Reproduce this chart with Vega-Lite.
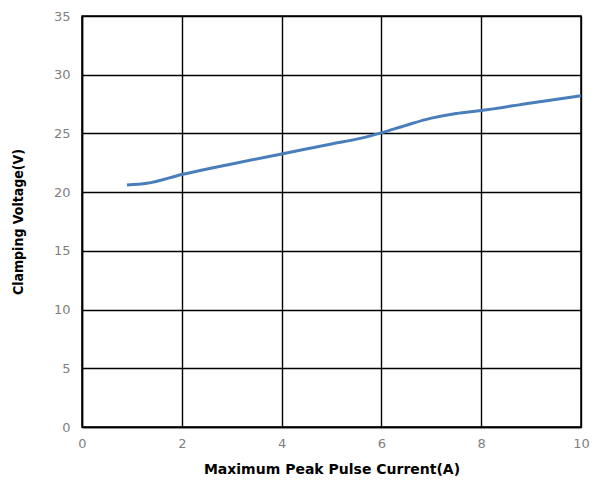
{
  "$schema": "https://vega.github.io/schema/vega-lite/v6.json",
  "width": 499,
  "height": 411,
  "autosize": {"type": "none"},
  "padding": {"left": 82, "top": 16, "right": 20, "bottom": 55},
  "background": "white",
  "config": {
    "view": {"stroke": "#000000", "strokeWidth": 1.5},
    "font": "DejaVu Sans"
  },
  "data": {
    "values": [
      {"x": 0.9, "y": 20.6},
      {"x": 1.3, "y": 20.75},
      {"x": 2, "y": 21.5},
      {"x": 3, "y": 22.4},
      {"x": 4, "y": 23.25},
      {"x": 5, "y": 24.1},
      {"x": 5.6, "y": 24.6},
      {"x": 6, "y": 25.05},
      {"x": 6.5, "y": 25.7},
      {"x": 7, "y": 26.3},
      {"x": 7.5, "y": 26.7},
      {"x": 8, "y": 26.95},
      {"x": 9, "y": 27.6},
      {"x": 10, "y": 28.2}
    ]
  },
  "mark": {"type": "line", "color": "#4a7ebb", "strokeWidth": 3, "interpolate": "monotone"},
  "encoding": {
    "x": {
      "field": "x", "type": "quantitative",
      "scale": {"domain": [0, 10], "nice": false, "zero": true},
      "axis": {
        "values": [0, 2, 4, 6, 8, 10],
        "title": "Maximum Peak Pulse Current(A)",
        "titleFont": "DejaVu Sans", "titleFontSize": 14, "titleFontWeight": "bold", "titleColor": "#000000",
        "titlePadding": 12,
        "labelFont": "DejaVu Sans", "labelFontSize": 13, "labelColor": "#7f7f7f",
        "labelPadding": 10, "labelFlush": false,
        "grid": true, "gridColor": "#000000", "gridWidth": 1.4, "gridOpacity": 1,
        "domainColor": "#000000", "domainWidth": 1.5,
        "ticks": false
      }
    },
    "y": {
      "field": "y", "type": "quantitative",
      "scale": {"domain": [0, 35], "nice": false},
      "axis": {
        "values": [0, 5, 10, 15, 20, 25, 30, 35],
        "title": "Clamping Voltage(V)",
        "titleFont": "DejaVu Sans Condensed, Liberation Sans, sans-serif", "titleFontSize": 14, "titleFontWeight": "bold", "titleColor": "#000000",
        "titlePadding": 28,
        "labelFont": "DejaVu Sans", "labelFontSize": 13, "labelColor": "#7f7f7f",
        "labelPadding": 12, "labelFlush": false,
        "grid": true, "gridColor": "#000000", "gridWidth": 1.4, "gridOpacity": 1,
        "domainColor": "#000000", "domainWidth": 1.5,
        "ticks": false
      }
    }
  }
}
